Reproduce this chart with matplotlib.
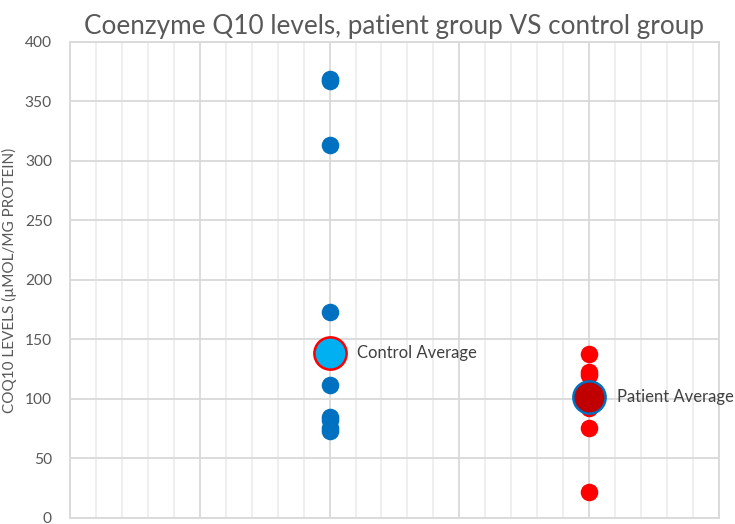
import matplotlib
matplotlib.use('Agg')
import matplotlib.pyplot as plt
from matplotlib.ticker import MultipleLocator, NullFormatter

# group positions on the x axis
control_x = 2
patient_x = 4

# CoQ10 levels
control_values = [369, 367, 313, 173, 112, 85, 82, 76, 73]
patient_values = [138, 123, 120, 110, 100, 95, 92, 76, 22]

# averages as drawn in the chart
control_avg = 139
patient_avg = 102

y_ticks = [0, 50, 100, 150, 200, 250, 300, 350, 400]

plt.rcParams['font.family'] = ['Lato', 'DejaVu Sans']
gray = '#595959'

fig = plt.figure(figsize=(7.35, 5.24), dpi=100)
ax = fig.add_axes([0.0952, 0.0115, 0.883, 0.9085])

ax.scatter([control_x] * len(control_values), control_values,
           s=160, color='#0070C0', zorder=3, linewidths=0)
ax.scatter([patient_x] * len(patient_values), patient_values,
           s=160, color='#FF0000', zorder=3, linewidths=0)

# average markers
ax.scatter([control_x], [control_avg], s=540, color='#00B0F0',
           edgecolors='#FF0000', linewidths=1.8, zorder=4)
ax.scatter([patient_x], [patient_avg], s=540, color='#C00000',
           edgecolors='#0070C0', linewidths=1.8, zorder=4)

ax.annotate('Control Average', (control_x, control_avg), xytext=(20, 0),
            textcoords='offset points', va='center', ha='left',
            fontsize=12, color='#404040')
ax.annotate('Patient Average', (patient_x, patient_avg), xytext=(20, 0),
            textcoords='offset points', va='center', ha='left',
            fontsize=12, color='#404040', annotation_clip=False)

ax.set_xlim(0, 5)
ax.set_ylim(0, 400)
ax.set_yticks(y_ticks)
ax.xaxis.set_major_locator(MultipleLocator(1))
ax.xaxis.set_minor_locator(MultipleLocator(0.2))
ax.xaxis.set_major_formatter(NullFormatter())

ax.grid(True, which='major', color='#D9D9D9', linewidth=1.3, zorder=0)
ax.grid(True, which='minor', axis='x', color='#EEEEEE', linewidth=1.3, zorder=0)
ax.set_axisbelow(True)

ax.tick_params(axis='both', which='both', length=0)
ax.tick_params(axis='y', labelsize=11.2, labelcolor=gray, pad=13)
for s in ax.spines.values():
    s.set_color('#D9D9D9')
    s.set_linewidth(1.3)

ax.set_ylabel('COQ10 LEVELS (\u00b5MOL/MG PROTEIN)', fontsize=11, color=gray)
ax.yaxis.set_label_coords(-0.081, 0.5)
ax.set_title('Coenzyme Q10 levels, patient group VS control group',
             fontsize=18.8, color=gray, pad=6)

fig.savefig('out.png', dpi=100)
